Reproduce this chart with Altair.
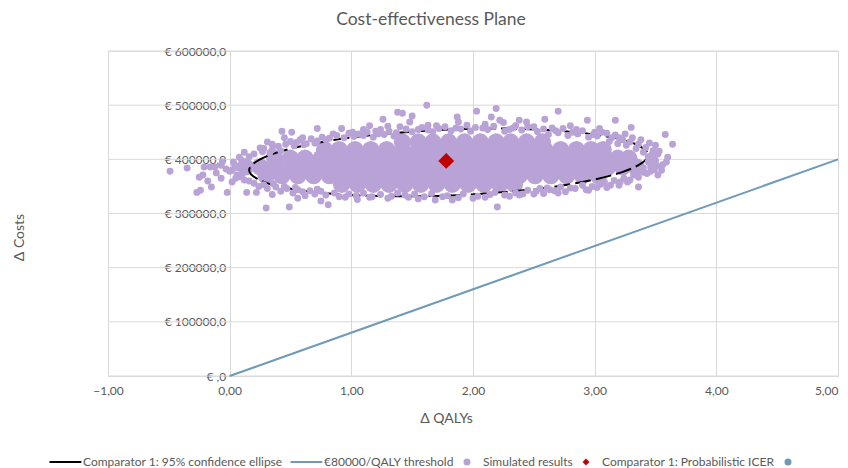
import altair as alt
import pandas as pd

# ---------------- data ----------------
chart_title = "Cost-effectiveness Plane"
x_title = "Δ QALYs"
y_title = "Δ Costs"

series_names = [
    "Comparator 1: 95% confidence ellipse",
    "€80000/QALY threshold",
    "Simulated results",
    "Comparator 1: Probabilistic ICER",
    " ",
]
series_colors = ["#000000", "#6f9ab8", "#b9a3d6", "#c00000", "#6f9ab8"]

x_ticks = [-1, 0, 1, 2, 3, 4, 5]
y_ticks = [0, 100000, 200000, 300000, 400000, 500000, 600000]

# 95% confidence ellipse (QALYs, cost in k€)
ellipse_qaly = [3.44, 3.38, 3.22, 2.96, 2.62, 2.22, 1.80, 1.38, 0.98, 0.64, 0.38, 0.22,
                0.16, 0.22, 0.38, 0.64, 0.98, 1.38, 1.80, 2.22, 2.62, 2.96, 3.22, 3.38]
ellipse_cost_k = [408, 423, 437, 447, 454, 457, 455, 449, 440, 427, 412, 396,
                  380, 365, 351, 341, 334, 332, 333, 339, 348, 361, 376, 392]

# threshold line (€80000 per QALY)
threshold_qaly = [0, 5]
threshold_cost = [0, 400000]

# probabilistic ICER
icer_qaly = [1.78]
icer_cost = [397000]

# dense core of the simulated cloud: (cost k€, list of QALYs)
core_rows = [
    (432, [1.42, 1.55, 1.67, 1.80, 1.93, 2.06, 2.19, 2.31, 2.44, 2.57]),
    (418, [0.78, 0.90, 1.03, 1.16, 1.29, 1.42, 1.55, 1.68, 1.81, 1.94, 2.07, 2.20, 2.33,
           2.46, 2.59, 2.72, 2.85, 2.97, 3.07]),
    (402, [0.37, 0.50, 0.62, 0.75, 0.88, 1.01, 1.14, 1.27, 1.40, 1.53, 1.66, 1.79, 1.92,
           2.05, 2.18, 2.31, 2.44, 2.57, 2.70, 2.83, 2.96, 3.08, 3.19, 3.28]),
    (386, [0.13, 0.25, 0.38, 0.51, 0.64, 0.77, 0.90, 1.03, 1.16, 1.29, 1.42, 1.55, 1.68,
           1.81, 1.94, 2.07, 2.20, 2.33, 2.46, 2.59, 2.72, 2.85, 2.98, 3.11, 3.23, 3.34]),
    (370, [0.30, 0.43, 0.56, 0.69, 0.82, 0.95, 1.08, 1.21, 1.34, 1.47, 1.60, 1.73, 1.86,
           1.99, 2.12, 2.25, 2.38, 2.51, 2.64, 2.77, 2.90, 3.03]),
    (354, [0.92, 1.05, 1.18, 1.31, 1.44, 1.57, 1.70, 1.83, 1.96, 2.09, 2.22, 2.34]),
]

# individual simulated results at the fringe and outside the core: (QALY, cost k€)
sim_points = [
    # left tail
    (-0.49, 378), (-0.35, 384), (-0.27, 339), (-0.24, 343), (-0.25, 367), (-0.22, 371),
    (-0.18, 360), (-0.15, 349), (-0.21, 386), (-0.16, 386), (-0.12, 386), (-0.07, 389),
    (-0.11, 375), (-0.07, 365), (-0.02, 339), (-0.06, 395), (-0.03, 382),
    (0.02, 380), (0.02, 358), (0.06, 371), (0.14, 395), (0.12, 413), (0.14, 339),
    (0.22, 339), (0.30, 310), (0.43, 452), (0.25, 421), (0.31, 432), (0.08, 404), (0.04, 390),
    (0.00, 378), (0.03, 395), (0.06, 385), (0.10, 398), (0.10, 372), (0.05, 365), (0.16, 405),
    # top edge
    (0.27, 414), (0.35, 418), (0.46, 428), (0.55, 431), (0.63, 429), (0.72, 434), (0.79, 436),
    (1.02, 442), (1.10, 444), (1.18, 441), (1.27, 446), (1.35, 443), (1.55, 455), (1.72, 457),
    (1.90, 456), (2.08, 458), (2.30, 455), (2.62, 446), (2.70, 449), (2.78, 444), (2.86, 447),
    (2.95, 441), (3.02, 443), (3.12, 433), (3.19, 429), (3.26, 426), (3.34, 420), (3.40, 413),
    (3.44, 405),
    (0.20, 410), (0.28, 420), (0.33, 412), (0.40, 424), (0.42, 416), (0.50, 433), (0.53, 425),
    (0.58, 436), (0.61, 427), (0.67, 438), (0.70, 430), (0.76, 441), (0.82, 439), (0.88, 444),
    (0.94, 440), (0.98, 448), (1.06, 447), (1.13, 450), (1.22, 447), (1.24, 455), (1.31, 452),
    (1.37, 449), (1.45, 456), (1.50, 451), (1.58, 459), (1.63, 454), (1.67, 451), (1.77, 460),
    (1.82, 453), (1.86, 458), (1.98, 452), (2.02, 459), (2.12, 455), (2.17, 461), (2.26, 452),
    (2.33, 458), (2.40, 454), (2.45, 460), (2.53, 451), (2.58, 456), (2.68, 453), (2.74, 457),
    (2.82, 450), (2.90, 453), (2.99, 446), (3.06, 450), (3.14, 440), (3.17, 445), (3.23, 436),
    (3.29, 432), (3.31, 440), (3.36, 428), (3.42, 422), (3.48, 416), (3.47, 408),
    # bottom edge
    (0.12, 362), (0.20, 356), (0.28, 353), (0.38, 349), (0.47, 346), (0.56, 344), (0.66, 342),
    (0.75, 341), (2.45, 343), (2.55, 346), (2.63, 344), (2.72, 349), (2.80, 347), (2.90, 352),
    (2.98, 350), (3.08, 358), (3.16, 361), (3.24, 365), (3.32, 371), (3.40, 376), (3.46, 386),
    (3.47, 396),
    (0.08, 368), (0.16, 360), (0.24, 350), (0.31, 346), (0.36, 355), (0.42, 341), (0.45, 350),
    (0.52, 338), (0.54, 348), (0.60, 340), (0.70, 336), (0.72, 345), (0.79, 334), (0.86, 338),
    (0.90, 331), (0.98, 336), (1.04, 333), (1.10, 338), (1.17, 331), (1.24, 335), (1.33, 332),
    (1.38, 338), (1.47, 330), (1.52, 336), (1.60, 331), (1.66, 337), (1.79, 333), (1.88, 329),
    (1.92, 336), (2.04, 332), (2.14, 335), (2.18, 339), (2.26, 334), (2.35, 338), (2.41, 336),
    (2.52, 341), (2.58, 337), (2.67, 342), (2.76, 340), (2.84, 346), (2.93, 344), (3.02, 348),
    (3.05, 354), (3.13, 352), (3.21, 358), (3.29, 362), (3.36, 367), (3.43, 374), (3.49, 381),
    (3.51, 388),
    # right end
    (3.44, 395), (3.48, 402), (3.52, 410), (3.40, 384), (3.46, 378),
    # above the cloud
    (0.51, 450), (0.72, 457), (0.92, 457), (1.01, 450), (1.26, 474), (1.30, 461), (1.38, 487),
    (1.42, 485), (1.50, 480), (1.48, 469), (1.62, 500), (1.63, 463), (1.87, 478), (1.88, 469),
    (2.03, 489), (2.19, 494), (2.15, 478), (2.22, 472), (2.38, 472), (2.44, 469), (2.59, 474),
    (2.70, 489), (2.94, 472), (3.04, 457), (3.17, 472), (3.30, 459), (3.58, 446), (3.64, 428),
    (3.50, 426),
    (0.60, 440), (0.85, 447), (1.10, 455), (1.20, 452), (1.40, 460), (1.70, 462), (1.95, 463),
    (2.10, 465), (2.35, 462), (2.50, 460), (2.65, 458), (2.85, 455), (3.00, 450), (3.10, 448),
    (3.20, 440), (3.38, 436), (3.45, 430), (0.45, 440), (0.35, 428), (1.15, 462), (2.25, 468),
    (2.80, 462), (3.25, 447),
    # right tail
    (3.60, 404), (3.59, 395), (3.55, 380), (3.52, 371), (3.53, 415), (3.50, 398), (3.56, 390),
    # below the cloud
    (0.49, 312), (0.75, 323), (0.81, 316), (0.56, 328), (1.15, 330), (1.44, 334), (2.20, 312),
    (1.83, 325), (1.69, 325), (2.00, 328), (2.38, 334), (2.61, 347), (0.35, 335), (0.62, 333),
    (0.95, 330), (1.05, 326), (1.30, 328), (1.55, 327), (1.75, 331), (2.10, 330), (2.30, 332),
    (2.50, 336), (2.70, 338), (2.95, 343), (3.10, 348), (3.20, 352), (3.36, 349), (3.27, 358),
]

# ---------------- tables ----------------
ell_df = pd.DataFrame({
    "q": ellipse_qaly,
    "c": [v * 1000 for v in ellipse_cost_k],
    "i": list(range(len(ellipse_qaly))),
})
thr_df = pd.DataFrame({"q": threshold_qaly, "c": threshold_cost})
icer_df = pd.DataFrame({"q": icer_qaly, "c": icer_cost, "s": series_names[3]})
core_df = pd.DataFrame(
    [(q, ck * 1000) for ck, qs in core_rows for q in qs], columns=["q", "c"]
).assign(s=series_names[2])
sim_df = pd.DataFrame(
    [(q, ck * 1000) for q, ck in sim_points], columns=["q", "c"]
).assign(s=series_names[2])
grid_df = pd.DataFrame({"c": y_ticks})

# ---------------- styling ----------------
FONT = "Lato"
TXT = "#595959"
GRID = "#d9d9d9"

line_sym = "M-5,-0.3L4.1,-0.3L4.1,0.3L-5,0.3Z"
series_shapes = [line_sym, line_sym, "circle", "diamond", "circle"]

xs = alt.Scale(domain=[-1, 5], nice=False, zero=False)
ys = alt.Scale(domain=[0, 600000], nice=False)

x_axis = alt.Axis(
    values=x_ticks,
    labelExpr="replace(format(datum.value, '.2f'), '.', ',')",
    labelAlign={"condition": {"test": "datum.value >= 5", "value": "right"}, "value": "center"},
    grid=True, gridColor=GRID, domainColor=GRID, ticks=False, tickSize=0,
    labelPadding=9, labelFont=FONT, labelFontSize=12, labelColor=TXT,
    labelFlush=False, labelOverlap=False,
    titleFont=FONT, titleFontSize=14, titleColor=TXT, titleFontWeight="normal",
    titleX=338, titleY=42, titleAlign="center", titleBaseline="middle",
)
y_axis = alt.Axis(
    values=y_ticks,
    labelExpr="datum.value == 0 ? '€ ,0' : '€ ' + format(datum.value, 'd') + ',0'",
    grid=False, domain=False, ticks=False, tickSize=0, offset=-121.67,
    labelPadding=4, labelFont=FONT, labelFontSize=12, labelColor=TXT,
    labelFlush=False, labelOverlap=False,
    titleFont=FONT, titleFontSize=14, titleColor=TXT, titleFontWeight="normal",
    titleX=-210.67, titleY=186, titleAngle=270, titleAlign="center", titleBaseline="middle",
)

legend = alt.Legend(
    orient="none", legendX=-47, legendY=405, direction="horizontal", columns=5,
    title=None, labelFont=FONT, labelFontSize=12, labelColor=TXT,
    symbolSize=49, symbolOpacity=1, symbolStrokeWidth=0, labelOffset=10,
    columnPadding=7, labelLimit=400, padding=0,
)

X = alt.X("q:Q", scale=xs, axis=x_axis, title=x_title)
Y = alt.Y("c:Q", scale=ys, axis=y_axis, title=y_title)
COLOR = alt.Color("s:N", scale=alt.Scale(domain=series_names, range=series_colors), legend=legend)
SHAPE = alt.Shape("s:N", scale=alt.Scale(domain=series_names, range=series_shapes), legend=legend)

ygrid = alt.Chart(grid_df).mark_rule(color=GRID, strokeWidth=1).encode(y=Y)
thr = alt.Chart(thr_df).mark_line(color=series_colors[1], strokeWidth=2).encode(x=X, y=Y)
core = alt.Chart(core_df).mark_point(filled=True, size=300, opacity=1).encode(
    x=X, y=Y, color=COLOR, shape=SHAPE)
ell = alt.Chart(ell_df).mark_line(
    color="#000000", strokeWidth=2, interpolate="cardinal-closed", strokeDash=[16, 5]
).encode(x=X, y=Y, order=alt.Order("i:Q"))
sim = alt.Chart(sim_df).mark_point(filled=True, size=48, opacity=1).encode(
    x=X, y=Y, color=COLOR, shape=SHAPE)
icer = alt.Chart(icer_df).mark_point(filled=True, size=250, opacity=1).encode(
    x=X, y=Y, color=COLOR, shape=SHAPE)

chart = alt.layer(ygrid, thr, core, ell, sim, icer).properties(
    width=730,
    height=325,
    title=alt.Title(chart_title, font=FONT, fontSize=17.5, fontWeight="normal", color=TXT,
                    anchor="middle", dx=-42, offset=17),
    padding={"left": 100, "top": 43, "right": 2, "bottom": 100},
    autosize=alt.AutoSizeParams(type="none"),
).configure_view(stroke=None).configure(font=FONT)

chart.save("out.html", embed_options={"renderer": "svg", "actions": False})
